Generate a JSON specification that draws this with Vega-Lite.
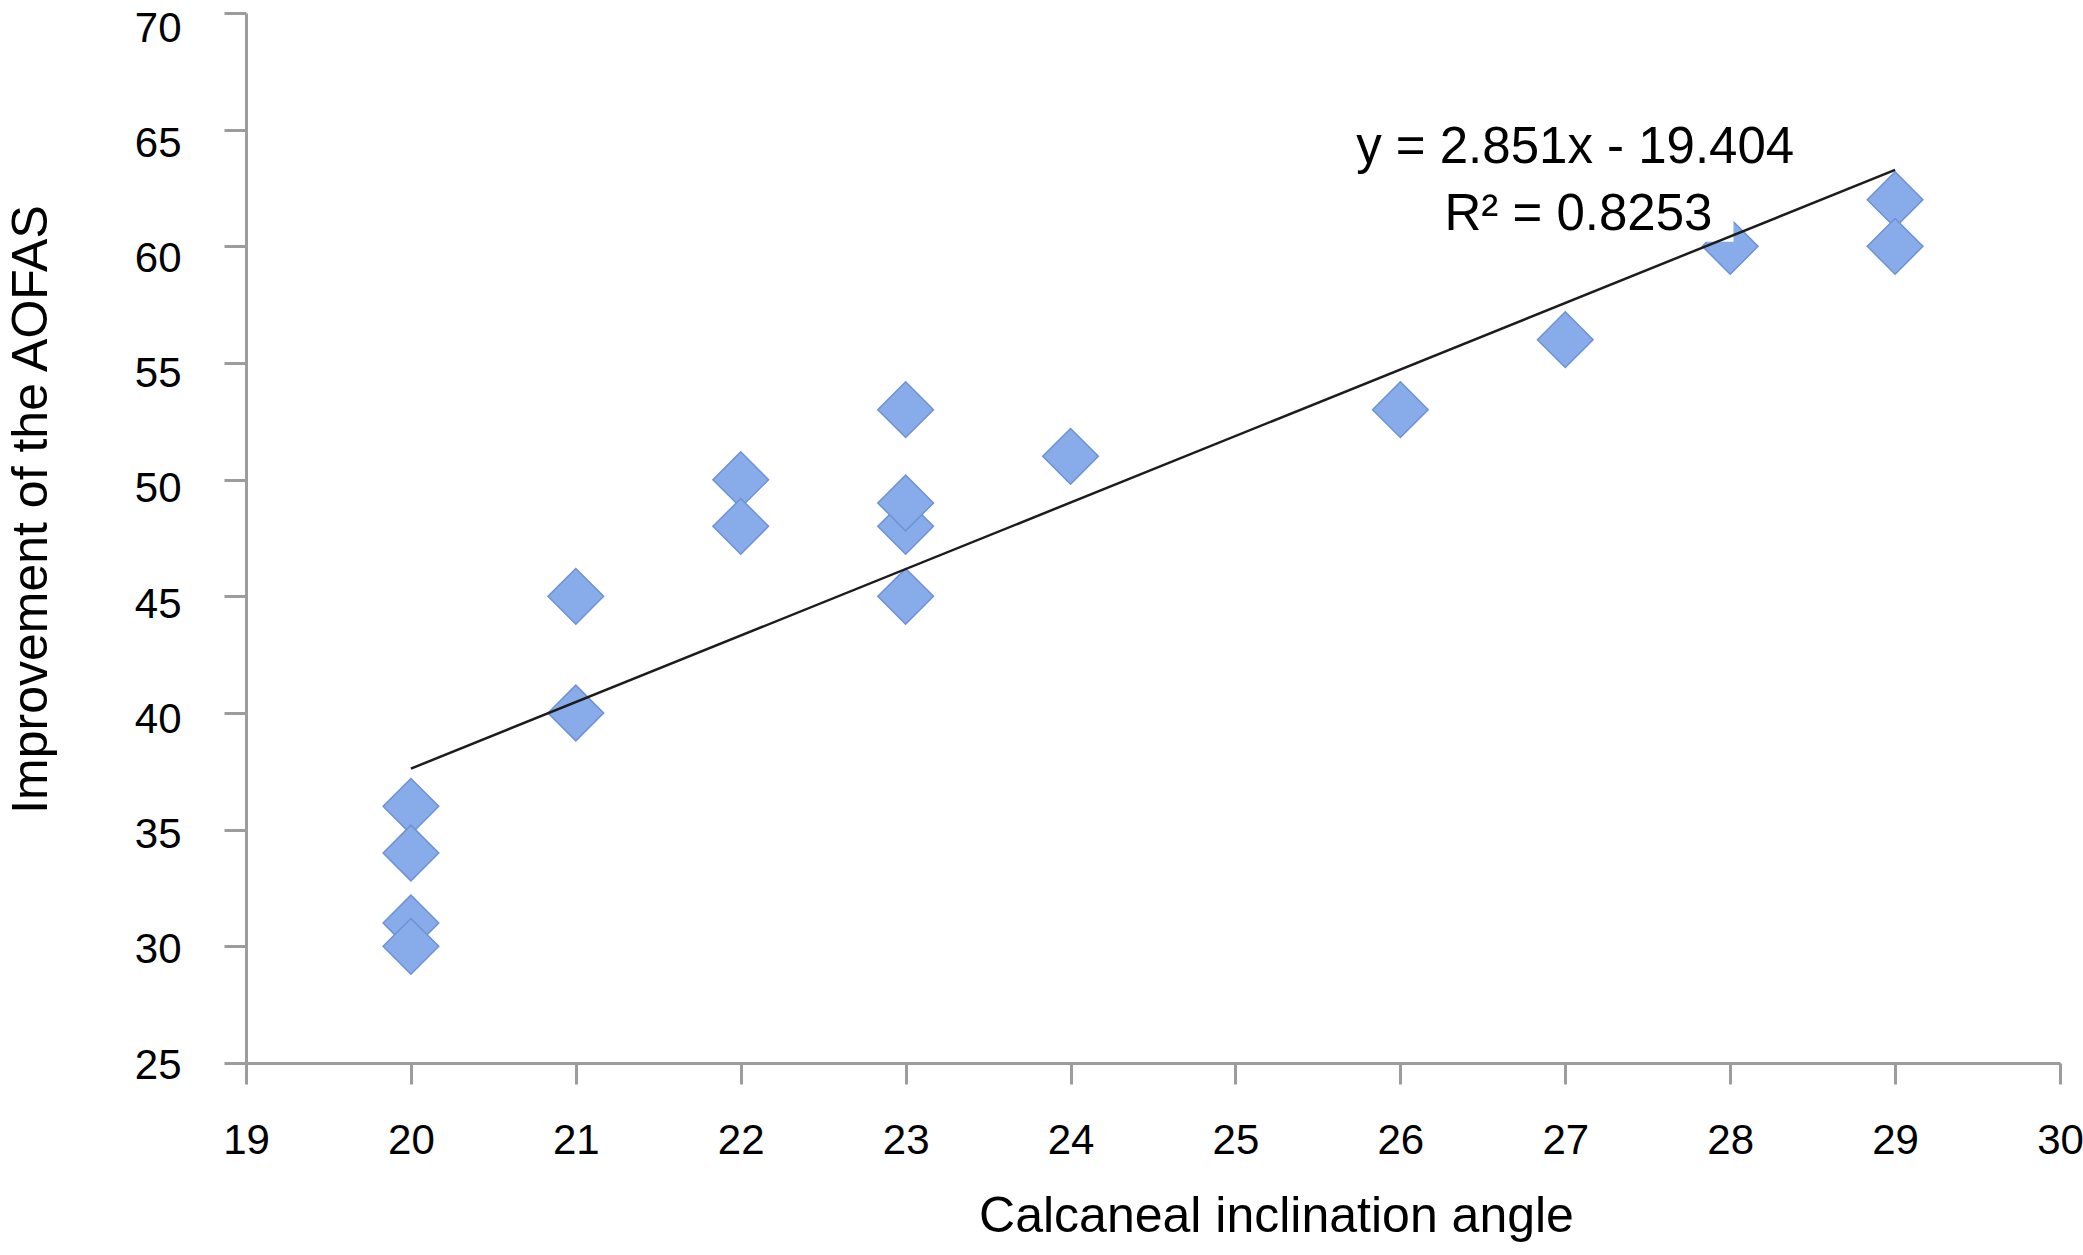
{
  "$schema": "https://vega.github.io/schema/vega-lite/v6.json",
  "width": 1814,
  "height": 1050,
  "autosize": {"type": "none"},
  "padding": {"left": 246, "top": 13, "right": 23, "bottom": 192},
  "background": "white",
  "config": {
    "view": {"stroke": null},
    "font": "Liberation Sans",
    "axis": {
      "grid": false,
      "domainColor": "#9c9c9c",
      "domainWidth": 3,
      "tickColor": "#9c9c9c",
      "tickWidth": 3,
      "labelFont": "Liberation Sans",
      "labelColor": "#000000",
      "labelFontSize": 42,
      "labelFlush": false,
      "labelOverlap": false,
      "format": "d",
      "titleFont": "Liberation Sans",
      "titleColor": "#000000",
      "titleFontSize": 50,
      "titleFontWeight": "normal"
    }
  },
  "layer": [
    {
      "data": {
        "values": [
          {"x": 20, "y": 36},
          {"x": 20, "y": 34},
          {"x": 20, "y": 31},
          {"x": 20, "y": 30},
          {"x": 21, "y": 45},
          {"x": 21, "y": 40},
          {"x": 22, "y": 50},
          {"x": 22, "y": 48},
          {"x": 23, "y": 53},
          {"x": 23, "y": 48},
          {"x": 23, "y": 49},
          {"x": 23, "y": 45},
          {"x": 24, "y": 51},
          {"x": 26, "y": 53},
          {"x": 27, "y": 56},
          {"x": 28, "y": 60},
          {"x": 29, "y": 62},
          {"x": 29, "y": 60}
        ]
      },
      "mark": {
        "type": "point",
        "shape": "diamond",
        "filled": true,
        "size": 3100,
        "fill": "#88abe9",
        "stroke": "#6d92d5",
        "strokeWidth": 1.5,
        "opacity": 1
      },
      "encoding": {
        "x": {
          "field": "x",
          "type": "quantitative",
          "title": "Calcaneal inclination angle",
          "scale": {"domain": [19, 30], "nice": false, "zero": false},
          "axis": {
            "values": [19, 20, 21, 22, 23, 24, 25, 26, 27, 28, 29, 30],
            "format": "d",
            "tickSize": 21,
            "labelPadding": 36,
            "titleX": 1030,
            "titleY": 168,
            "titleAlign": "center",
            "titleAnchor": null,
            "titleBaseline": "alphabetic"
          }
        },
        "y": {
          "field": "y",
          "type": "quantitative",
          "title": "Improvement of the AOFAS",
          "scale": {"domain": [25, 70], "nice": false, "zero": false},
          "axis": {
            "values": [25, 30, 35, 40, 45, 50, 55, 60, 65, 70],
            "format": "d",
            "tickSize": 22,
            "labelPadding": 43,
            "labelOffset": {"expr": "2 + (datum.value - 25) * 13 / 45"},
            "titleX": -200,
            "titleY": 496,
            "titleAngle": 270,
            "titleAlign": "center",
            "titleAnchor": null,
            "titleBaseline": "alphabetic"
          }
        }
      }
    },
    {
      "data": {
        "values": [
          {"x": 25.9, "x2": 28.02, "y": 60.2, "y2": 65.9}
        ]
      },
      "mark": {"type": "rect", "fill": "#ffffff", "stroke": null},
      "encoding": {
        "x": {"field": "x", "type": "quantitative", "title": "Calcaneal inclination angle"},
        "x2": {"field": "x2"},
        "y": {"field": "y", "type": "quantitative", "title": "Improvement of the AOFAS"},
        "y2": {"field": "y2"}
      }
    },
    {
      "data": {
        "values": [
          {"x": 20, "y": 37.616},
          {"x": 29, "y": 63.275}
        ]
      },
      "mark": {"type": "line", "color": "#1c1c1c", "strokeWidth": 2.5},
      "encoding": {
        "x": {"field": "x", "type": "quantitative", "title": "Calcaneal inclination angle"},
        "y": {"field": "y", "type": "quantitative", "title": "Improvement of the AOFAS"}
      }
    },
    {
      "data": {
        "values": [
          {"x": 27.06, "y": 63.57, "label": "y = 2.851x - 19.404"},
          {"x": 27.08, "y": 60.7, "label": "R² = 0.8253"}
        ]
      },
      "mark": {
        "type": "text",
        "align": "center",
        "baseline": "alphabetic",
        "font": "Liberation Sans",
        "fontSize": 51,
        "color": "#000000"
      },
      "encoding": {
        "x": {"field": "x", "type": "quantitative", "title": "Calcaneal inclination angle"},
        "y": {"field": "y", "type": "quantitative", "title": "Improvement of the AOFAS"},
        "text": {"field": "label"}
      }
    }
  ]
}
